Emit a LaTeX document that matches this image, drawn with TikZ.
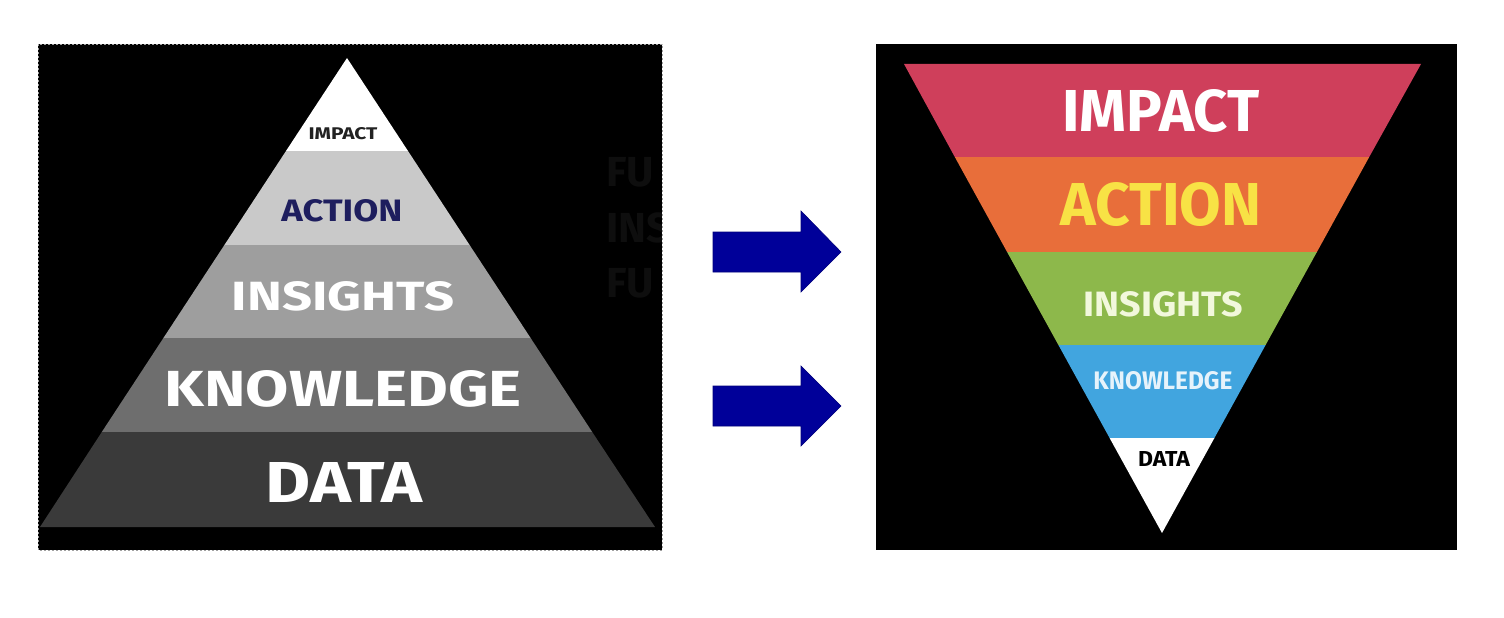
\documentclass[tikz,border=0pt]{standalone}
\usepackage{fontspec}
\setmainfont{Fira Sans}
\usepackage{graphicx}
\definecolor{arrowblue}{HTML}{000099}
\definecolor{pImpact}{HTML}{FFFFFF}
\definecolor{pAction}{HTML}{C9C9C9}
\definecolor{pInsights}{HTML}{9E9E9E}
\definecolor{pKnow}{HTML}{6E6E6E}
\definecolor{pData}{HTML}{3A3A3A}
\definecolor{tNavy}{HTML}{1E1E5E}
\definecolor{tDark}{HTML}{222222}
\definecolor{fRed}{HTML}{CF3F5B}
\definecolor{fOrange}{HTML}{E86E3A}
\definecolor{fGreen}{HTML}{8DB84B}
\definecolor{fBlue}{HTML}{41A5DF}
\definecolor{tYellow}{HTML}{F8E245}
\definecolor{tPale}{HTML}{F2F8DC}
\definecolor{tIce}{HTML}{E6F3FB}
\definecolor{ghost}{HTML}{0E0E0E}
\definecolor{frame}{HTML}{A0A0A0}
\newcommand{\fitbox}[3]{\resizebox{#1pt}{#2pt}{\bfseries #3}}
\begin{document}
\begin{tikzpicture}[x=1pt,y=-1pt,
  lbl/.style={inner sep=0pt,anchor=center},
  ghosttext/.style={anchor=west,inner sep=0pt,text=ghost,font=\fontsize{42}{42}\selectfont\bfseries},
  arrowshape/.style={fill=arrowblue,draw=arrowblue!80!black,line width=0.6pt}]
\useasboundingbox (0,0) rectangle (1504,618);
\fill[white] (0,0) rectangle (1504,618);

% ---------- left panel ----------
\fill[black] (38,44) rectangle (662,550);
\draw[frame,line width=0.8pt,dash pattern=on 2pt off 2pt] (38,44) rectangle (662,550);
\begin{scope}
  \clip (38,44) rectangle (661,550);
  \node[ghosttext] (g1) at (606,172) {FU};
  \node[ghosttext] (g2) at (606,228) {INS};
  \node[ghosttext] (g3) at (606,283) {FU};
\end{scope}

\fill[pImpact]   (347,58) -- (408,151) -- (286,151) -- cycle;
\fill[pAction]   (286,151) -- (408,151) -- (469.6,245) -- (224.4,245) -- cycle;
\fill[pInsights] (224.4,245) -- (469.6,245) -- (530.6,338) -- (163.4,338) -- cycle;
\fill[pKnow]     (163.4,338) -- (530.6,338) -- (592.2,432) -- (101.8,432) -- cycle;
\fill[pData]     (101.8,432) -- (592.2,432) -- (655,527) -- (40,527) -- cycle;

\node[lbl,text=tDark] (lImpact) at (343,134) {\fitbox{69}{12}{IMPACT}};
\node[lbl,text=tNavy] (lAction) at (342,211) {\fitbox{121}{22}{ACTION}};
\node[lbl,text=white] (lInsights) at (343,296) {\fitbox{222}{29}{INSIGHTS}};
\node[lbl,text=white] (lKnow) at (343,389) {\fitbox{357}{36}{KNOWLEDGE}};
\node[lbl,text=white] (lData) at (344,482) {\fitbox{157}{40}{DATA}};

% ---------- arrows ----------
\filldraw[arrowshape] (713,232) -- (801,232) -- (801,211) -- (841,252) -- (801,292) -- (801,272) -- (713,272) -- cycle;
\filldraw[arrowshape] (713,386) -- (801,386) -- (801,366) -- (841,406) -- (801,446) -- (801,426) -- (713,426) -- cycle;

% ---------- right panel ----------
\fill[black] (876,44) rectangle (1457,550);
\fill[fRed]    (904,64) -- (1421,64) -- (1369.2,157) -- (954.8,157) -- cycle;
\fill[fOrange] (954.8,157) -- (1369.2,157) -- (1316.9,252) -- (1007.1,252) -- cycle;
\fill[fGreen]  (1007.1,252) -- (1316.9,252) -- (1265.6,345) -- (1058.4,345) -- cycle;
\fill[fBlue]   (1058.4,345) -- (1265.6,345) -- (1214.4,438) -- (1109.6,438) -- cycle;
\fill[white]   (1109.6,438) -- (1214.4,438) -- (1162,533) -- cycle;

\node[lbl,text=white]   (rImpact) at (1161,111) {\fitbox{197}{42}{IMPACT}};
\node[lbl,text=tYellow] (rAction) at (1161,205) {\fitbox{201}{43}{ACTION}};
\node[lbl,text=tPale]   (rInsights) at (1163,304) {\fitbox{159}{25}{INSIGHTS}};
\node[lbl,text=tIce]    (rKnow) at (1163,381) {\fitbox{139}{18}{KNOWLEDGE}};
\node[lbl,text=black]   (rData) at (1164,459) {\fitbox{52}{15}{DATA}};
\end{tikzpicture}
\end{document}
